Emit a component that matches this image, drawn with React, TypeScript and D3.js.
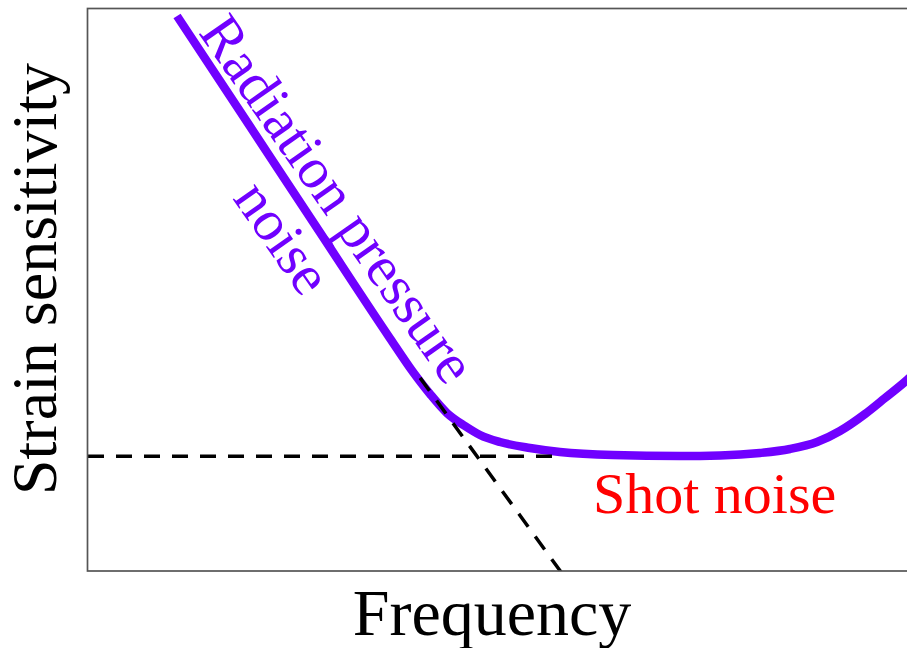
import React from "react";
import * as d3 from "d3";

// Total noise curve (arbitrary units: frequency 0..100, sensitivity 0..100)
const curveFreq = [10.83, 19.71, 28.22, 36.74, 39.54, 41.61, 43.67, 45.86, 47.69, 50.12, 53.77, 57.42, 63.87, 72.02, 76.89, 81.75, 85.4, 88.69, 91.48, 94.53, 96.96, 99.64, 101.22];
const curveSens = [98.58, 78.97, 60.14, 41.33, 35.35, 31.44, 28.06, 25.75, 24.16, 22.91, 21.85, 21.14, 20.6, 20.43, 20.52, 20.96, 21.67, 22.91, 24.87, 27.89, 30.73, 33.93, 36.06];

// Shot noise asymptote (horizontal dashed)
const shotFreq = [0, 57.4];
const shotSens = [20.4, 20.4];

// Radiation pressure asymptote (diagonal dashed)
const radFreq = [40.4, 58.2];
const radSens = [34.3, -1.5];

const xLabel = "Frequency";
const yLabel = "Strain sensitivity";
const radLabel = ["Radiation pressure", "noise"];
const shotLabel = "Shot noise";

const W = 907;
const H = 648;
const left = 88;
const right = 910;
const top = 8;
const bottom = 571;

export default function App() {
  const x = d3.scaleLinear().domain([0, 100]).range([left, right]);
  const y = d3.scaleLinear().domain([0, 100]).range([bottom, top]);

  const curveLine = d3
    .line<number>()
    .x((_, i) => x(curveFreq[i]))
    .y((_, i) => y(curveSens[i]))
    .curve(d3.curveMonotoneX);
  const straight = (fx: number[], fy: number[]) =>
    d3
      .line<number>()
      .x((_, i) => x(fx[i]))
      .y((_, i) => y(fy[i]))(fx);

  const purple = "#7000ff";
  const font = "'Liberation Serif', 'Times New Roman', serif";

  return (
    <svg
      width={W}
      height={H}
      style={{ position: "absolute", left: 0, top: 0, display: "block", background: "#fff" }}
    >
      <defs>
        <clipPath id="plotClip">
          <rect x={left} y={top} width={right - left} height={bottom - top} />
        </clipPath>
      </defs>
      <rect x={0} y={0} width={W} height={H} fill="#fff" />
      <g clipPath="url(#plotClip)">
        <path d={curveLine(curveFreq) || ""} fill="none" stroke={purple} strokeWidth={8.5} strokeLinecap="butt" />
        <path d={straight(shotFreq, shotSens) || ""} fill="none" stroke="#000" strokeWidth={3.5} strokeDasharray="16,12" />
        <path d={straight(radFreq, radSens) || ""} fill="none" stroke="#000" strokeWidth={3.5} strokeDasharray="16,12" />
      </g>
      <rect
        x={left - 0.5}
        y={top + 0.5}
        width={right - left + 10}
        height={bottom - top - 0.5}
        fill="none"
        stroke="#555"
        strokeWidth={1.7}
      />
      <text
        transform={`translate(322,210) rotate(55)`}
        textAnchor="middle"
        fontFamily={font}
        fontSize={58}
        fill={purple}
      >
        <tspan x={0} dy={0}>{radLabel[0]}</tspan>
        <tspan x={0} dy={67}>{radLabel[1]}</tspan>
      </text>
      <text x={593} y={513} fontFamily={font} fontSize={58} fill="#ff0000">
        {shotLabel}
      </text>
      <text x={492} y={635} textAnchor="middle" fontFamily={font} fontSize={66} fill="#000">
        {xLabel}
      </text>
      <text
        transform={`translate(56,279) rotate(-90)`}
        textAnchor="middle"
        fontFamily={font}
        fontSize={64}
        fill="#000"
      >
        {yLabel}
      </text>
    </svg>
  );
}
